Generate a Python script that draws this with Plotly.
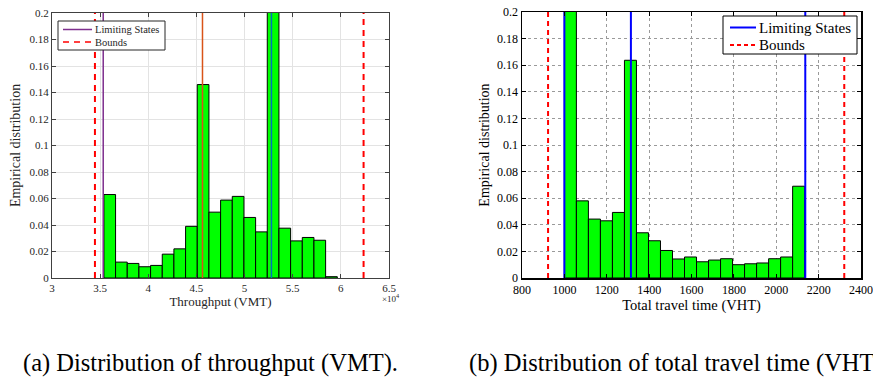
import plotly.graph_objects as go

# ---------------- data ----------------
# (a) throughput (VMT) histogram
vmt_bin_start = 35390
vmt_bin_width = 1212
vmt_heights = [0.063, 0.012, 0.011, 0.0085, 0.0095, 0.018, 0.022, 0.039, 0.146, 0.0497,
               0.0588, 0.0616, 0.0457, 0.0348, 0.295, 0.0376, 0.028, 0.0306, 0.0285, 0.001]
vmt_limiting_states = [35320, 45630, 52790]
vmt_limiting_colors = ["#7E2F8E", "#D95319", "#0072BD"]
vmt_bounds = [34460, 62360]
vmt_ticks = [30000, 35000, 40000, 45000, 50000, 55000, 60000, 65000]
vmt_tick_labels = ["3", "3.5", "4", "4.5", "5", "5.5", "6", "6.5"]

# (b) total travel time (VHT) histogram
vht_bin_start = 1000
vht_bin_width = 56.7
vht_heights = [0.357, 0.058, 0.0443, 0.043, 0.0493, 0.1637, 0.034, 0.028, 0.0207, 0.0143,
               0.0158, 0.0122, 0.0135, 0.0145, 0.010, 0.0107, 0.0113, 0.0145, 0.0158, 0.069]
vht_limiting_states = [1000, 1314, 2137]
vht_bounds = [923, 2321]
vht_ticks = [800, 1000, 1200, 1400, 1600, 1800, 2000, 2200, 2400]

y_ticks = [0, 0.02, 0.04, 0.06, 0.08, 0.1, 0.12, 0.14, 0.16, 0.18, 0.2]
y_max = 0.2

legend_labels = ["Limiting States", "Bounds"]
captions = ["(a) Distribution of throughput (VMT).", "(b) Distribution of total travel time (VHT)."]

FONT = "Liberation Serif"

W, H = 873, 377


def px(x):
    return x / W


def py(y):
    return 1 - y / H


fig = go.Figure()

# ---------- panel (a) ----------
vmt_centers = [vmt_bin_start + (i + 0.5) * vmt_bin_width for i in range(len(vmt_heights))]
fig.add_trace(go.Bar(x=vmt_centers, y=vmt_heights, width=vmt_bin_width,
                     marker=dict(color="#00FF00", line=dict(color="black", width=1)),
                     showlegend=False, xaxis="x", yaxis="y", hoverinfo="skip"))
for v, c in zip(vmt_limiting_states, vmt_limiting_colors):
    fig.add_trace(go.Scatter(x=[v, v], y=[0, y_max], mode="lines",
                             line=dict(color=c, width=1.5), name=legend_labels[0],
                             showlegend=False, xaxis="x", yaxis="y"))
for v in vmt_bounds:
    fig.add_trace(go.Scatter(x=[v, v], y=[0, y_max], mode="lines",
                             line=dict(color="#FF0000", width=2, dash="6px,5px"), name=legend_labels[1],
                             showlegend=False, xaxis="x", yaxis="y"))

# ---------- panel (b) ----------
vht_centers = [vht_bin_start + (i + 0.5) * vht_bin_width for i in range(len(vht_heights))]
fig.add_trace(go.Bar(x=vht_centers, y=vht_heights, width=vht_bin_width,
                     marker=dict(color="#00FF00", line=dict(color="black", width=1)),
                     showlegend=False, xaxis="x2", yaxis="y2", hoverinfo="skip"))
for v in vht_limiting_states:
    fig.add_trace(go.Scatter(x=[v, v], y=[0, y_max], mode="lines",
                             line=dict(color="#0000FF", width=2), name=legend_labels[0],
                             showlegend=False, xaxis="x2", yaxis="y2"))
for v in vht_bounds:
    fig.add_trace(go.Scatter(x=[v, v], y=[0, y_max], mode="lines",
                             line=dict(color="#FF0000", width=2, dash="5px,4px"), name=legend_labels[1],
                             showlegend=False, xaxis="x2", yaxis="y2"))

# ---------- legends (drawn as boxes with sample lines) ----------
shapes = []
annotations = []


def legend_box(x0, y0, x1, y1, line_x0, line_x1, rows, fsize, border, lw):
    shapes.append(dict(type="rect", xref="paper", yref="paper",
                       x0=px(x0), x1=px(x1), y0=py(y1), y1=py(y0),
                       fillcolor="white", line=dict(color=border, width=1), layer="above"))
    for (yy, color, dash, text) in rows:
        shapes.append(dict(type="line", xref="paper", yref="paper",
                           x0=px(line_x0), x1=px(line_x1), y0=py(yy), y1=py(yy),
                           line=dict(color=color, width=lw, dash=dash), layer="above"))
        annotations.append(dict(text=text, x=px(line_x1 + 1), y=py(yy), xref="paper", yref="paper",
                                xanchor="left", yanchor="middle", showarrow=False,
                                font=dict(size=fsize, family=FONT, color=border)))


legend_box(58, 21, 165, 50, 63, 92,
           [(29.5, "#7E2F8E", "solid", legend_labels[0]),
            (42, "#FF0000", "6px,5px", legend_labels[1])], 10.5, "#262626", 1.5)
legend_box(723, 16, 857, 54, 730, 756,
           [(27.5, "#0000FF", "solid", legend_labels[0]),
            (45, "#FF0000", "4px,3px", legend_labels[1])], 15, "black", 2)

annotations += [
    dict(text="×10<sup>4</sup>", x=px(391), y=py(306), xref="paper", yref="paper",
         showarrow=False, font=dict(size=9, family=FONT, color="#262626")),
    dict(text=captions[0], x=px(21), y=py(363),
         xref="paper", yref="paper", xanchor="left", yanchor="middle",
         showarrow=False, font=dict(size=24.5, family=FONT, color="black")),
    dict(text=captions[1], x=px(467), y=py(363),
         xref="paper", yref="paper", xanchor="left", yanchor="middle",
         showarrow=False, font=dict(size=24.5, family=FONT, color="black")),
]

fig.update_layout(
    width=W, height=H,
    margin=dict(l=0, r=0, t=0, b=0, pad=0),
    paper_bgcolor="white", plot_bgcolor="white",
    font=dict(family=FONT, color="#262626"),
    bargap=0, showlegend=False, hovermode=False,
    xaxis=dict(domain=[px(52), px(389)], range=[30000, 65000], anchor="y", automargin=False,
               tickvals=vmt_ticks, ticktext=vmt_tick_labels,
               showgrid=True, gridcolor="#E3E3E3", gridwidth=1,
               showline=True, linecolor="#404040", linewidth=1, mirror="allticks",
               ticks="inside", ticklen=4, tickcolor="#404040",
               tickfont=dict(size=11, family=FONT, color="#262626"),
               title=dict(text="Throughput (VMT)", font=dict(size=13, family=FONT), standoff=3),
               zeroline=False),
    yaxis=dict(domain=[py(278), py(13)], range=[0, y_max], anchor="x", automargin=False,
               tickvals=y_ticks,
               showgrid=True, gridcolor="#E3E3E3", gridwidth=1,
               showline=True, linecolor="#404040", linewidth=1, mirror="allticks",
               ticks="inside", ticklen=4, tickcolor="#404040",
               tickfont=dict(size=11, family=FONT, color="#262626"),
               title=dict(text="Empirical distribution", font=dict(size=14, family=FONT), standoff=5),
               zeroline=False),
    xaxis2=dict(domain=[px(522), px(861)], range=[800, 2400], anchor="y2", automargin=False,
                tickvals=vht_ticks,
                showgrid=True, gridcolor="#9A9A9A", gridwidth=1, griddash="dot",
                showline=True, linecolor="black", linewidth=1.5, mirror="allticks",
                ticks="inside", ticklen=4, tickcolor="black",
                tickfont=dict(size=12, family=FONT, color="black"),
                title=dict(text="Total travel time (VHT)", font=dict(size=14.5, family=FONT, color="black"), standoff=0),
                zeroline=False),
    yaxis2=dict(domain=[py(278), py(12)], range=[0, y_max], anchor="x2", automargin=False,
                tickvals=y_ticks,
                showgrid=True, gridcolor="#9A9A9A", gridwidth=1, griddash="dot",
                showline=True, linecolor="black", linewidth=1.5, mirror="allticks",
                ticks="inside", ticklen=4, tickcolor="black",
                tickfont=dict(size=12, family=FONT, color="black"),
                title=dict(text="Empirical distribution", font=dict(size=14, family=FONT, color="black"), standoff=4),
                zeroline=False),
    shapes=shapes,
    annotations=annotations,
)

# remove the browser's default 8px body margin so the figure fills the window exactly
fig.write_html("out.html", config={"displayModeBar": False, "staticPlot": True},
               post_script="document.body.style.margin='0';")
